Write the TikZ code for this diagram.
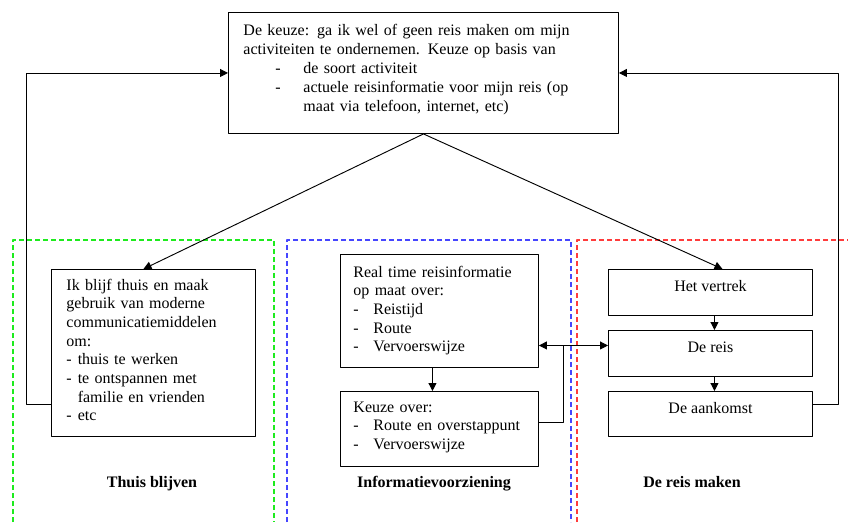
\documentclass[tikz,border=0pt]{standalone}
\usepackage{fontspec}
\setmainfont{Liberation Serif}
\usetikzlibrary{positioning,arrows.meta}
\definecolor{groenrand}{RGB}{30,235,30}
\definecolor{blauwrand}{RGB}{70,70,255}
\definecolor{roodrand}{RGB}{255,60,60}
\tikzset{
	box/.style={draw, rectangle, anchor=north west, inner sep=0pt},
	txt/.style={anchor=base west, inner sep=0pt, text width=300pt, align=left},
	kop/.style={anchor=base, inner sep=0pt, font=\fontsize{12}{14}\selectfont\bfseries},
	rand/.style={dash pattern=on 3.75pt off 2.25pt, line width=1.1pt}
}
\begin{document}
\begin{tikzpicture}[x=0.75pt, y=-0.75pt, font=\fontsize{12}{14}\selectfont, line width=0.7pt, line join=round, >={Triangle[length=6pt,width=6pt]}]
	\def\u{0.75pt} % 1 pixel
	\useasboundingbox (0,0) rectangle (848,522);
	% kaders
	\draw[rand, draw=groenrand] (13,522) -- (13,240) -- (274,240) -- (274,522);
	\draw[rand, draw=blauwrand] (287,522) -- (287,240) -- (571,240) -- (571,522);
	\draw[rand, draw=roodrand] (577,522) -- (577,240) -- (848,240);
	% blokken
	\node[box, minimum width=390*\u, minimum height=121*\u] (keuze) at (228,12) {};
	\node[box, minimum width=204*\u, minimum height=167*\u] (thuis) at (51,269) {};
	\node[box, minimum width=198*\u, minimum height=113*\u] (info) at (340,254) {};
	\node[box, minimum width=198*\u, minimum height=75*\u] (over) at (340,391) {};
	\node[box, minimum width=204*\u, minimum height=46*\u] (vertrek) at (608,269) {};
	\node[box, minimum width=204*\u, minimum height=46*\u] (reis) at (608,330) {};
	\node[box, minimum width=204*\u, minimum height=45*\u] (aankomst) at (608,391) {};
	% teksten
	\node[txt, font=\fontsize{12}{14.3}\selectfont] (keuzeTxt) at ([shift={(15,23)}]keuze.north west)
		{De keuze: ga ik wel of geen reis maken om mijn\\
		activiteiten te ondernemen. Keuze op basis van\\
		\hspace*{24pt}\makebox[21pt][l]{-}de soort activiteit\\
		\hspace*{24pt}\makebox[21pt][l]{-}actuele reisinformatie voor mijn reis (op\\
		\hspace*{45pt}maat via telefoon, internet, etc)};
	\node[txt] (thuisTxt) at ([shift={(15,21)}]thuis.north west)
		{Ik blijf thuis en maak\\
		gebruik van moderne\\
		communicatiemiddelen\\
		om:\\
		\makebox[8.5pt][l]{-}thuis te werken\\
		\makebox[8.5pt][l]{-}te ontspannen met\\
		\hspace*{8.5pt}familie en vrienden\\
		\makebox[8.5pt][l]{-}etc};
	\node[txt] (infoTxt) at ([shift={(13,23)}]info.north west)
		{Real time reisinformatie\\
		op maat over:\\
		\makebox[15pt][l]{-}Reistijd\\
		\makebox[15pt][l]{-}Route\\
		\makebox[15pt][l]{-}Vervoerswijze};
	\node[txt] (overTxt) at ([shift={(13,21)}]over.north west)
		{Keuze over:\\
		\makebox[15pt][l]{-}Route en overstappunt\\
		\makebox[15pt][l]{-}Vervoerswijze};
	\node[anchor=base, inner sep=0pt] (vertrekTxt) at ([shift={(0,22)}]vertrek.north) {Het vertrek};
	\node[anchor=base, inner sep=0pt] (reisTxt) at ([shift={(0,22)}]reis.north) {De reis};
	\node[anchor=base, inner sep=0pt] (aankomstTxt) at ([shift={(0,22)}]aankomst.north) {De aankomst};
	% kopjes
	\node[kop] (thuisKop) at (152,487) {Thuis blijven};
	\node[kop] (infoKop) at (434,487) {Informatievoorziening};
	\node[kop] (reisKop) at (692,487) {De reis maken};
	% verbindingen
	\draw[->] (keuze.south) -- ([xshift=-10*\u]thuis.north);
	\draw[->] (keuze.south) -- ([xshift=12*\u]vertrek.north);
	\draw[->] ([yshift=-51.5*\u]thuis.west) -| ([xshift=-202*\u]keuze.west) -- (keuze.west);
	\draw[->] ([yshift=9.5*\u]aankomst.east) -| ([xshift=220*\u]keuze.east) -- (keuze.east);
	\draw[->] ([xshift=-7*\u]info.south) -- ([xshift=-7*\u]over.north);
	\draw[->] ([xshift=4*\u]vertrek.south) -- ([xshift=4*\u]reis.north);
	\draw[->] ([xshift=4*\u]reis.south) -- ([xshift=4*\u]aankomst.north);
	\coordinate (splits) at ([yshift=-34.5*\u]info.east);
	\coordinate (knik) at ([xshift=25*\u]splits);
	\draw[<->] (splits) -- (splits -| reis.west);
	\draw ([yshift=6.5*\u]over.east) -| (knik);
\end{tikzpicture}
\end{document}
